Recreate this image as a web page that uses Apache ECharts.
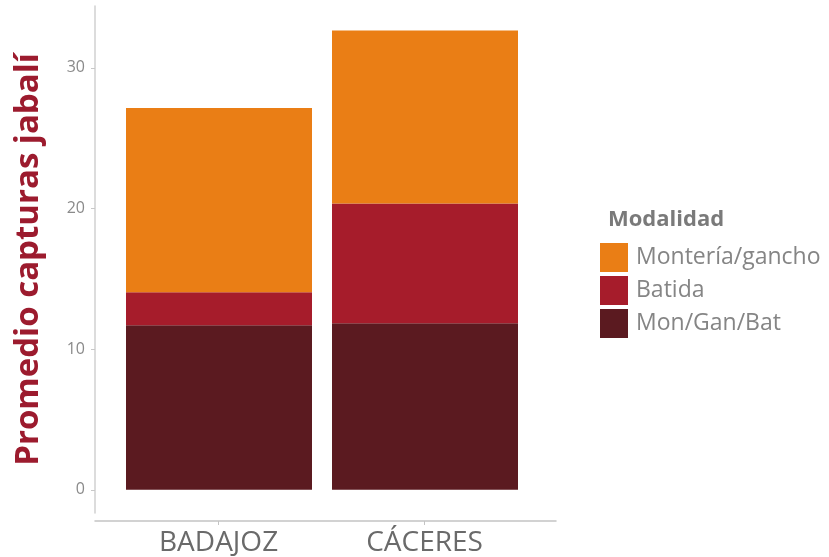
<!DOCTYPE html>
<html>
<head>
<meta charset="utf-8">
<script src="https://cdn.jsdelivr.net/npm/echarts@6/dist/echarts.min.js"></script>
<style>
  html, body { margin: 0; padding: 0; background: #fff; }
  #chart { width: 829px; height: 557px; }
</style>
</head>
<body>
<div id="chart"></div>
<script>
const provincias = ['BADAJOZ', 'CÁCERES'];
const monGanBat = [11.7, 11.85];
const batida = [2.35, 8.5];
const monteria = [13.1, 12.3];
const yTicks = [0, 10, 20, 30];

const colores = {
  'Montería/gancho': '#EA7E15',
  'Batida': '#A61C2B',
  'Mon/Gan/Bat': '#5B1A20'
};

const font = "'Open Sans', 'Noto Sans', sans-serif";
const yMin = -1.65, yMax = 34.4;

const chart = echarts.init(document.getElementById('chart'));
chart.setOption({
  animation: false,
  textStyle: { fontFamily: font },
  title: {
    text: 'Modalidad',
    left: 603,
    top: 204,
    textStyle: { fontSize: 22, fontWeight: 'bold', color: '#7a7a7a', fontFamily: font }
  },
  legend: {
    orient: 'vertical',
    left: 595,
    top: 238,
    itemWidth: 28,
    itemHeight: 29,
    itemGap: 4,
    icon: 'rect',
    data: ['Montería/gancho', 'Batida', 'Mon/Gan/Bat'],
    textStyle: { fontSize: 23, color: '#858585', fontFamily: font, padding: [0, 0, 0, 3] }
  },
  // grid 0 carries the visible axes (wider, like ggplot's expanded panel),
  // grid 1 holds the bars on a category axis
  grid: [
    { left: 95, width: 461, top: 6, bottom: 44, outerBoundsMode: 'none' },
    { left: 116, width: 412, top: 6, bottom: 44, outerBoundsMode: 'none' }
  ],
  xAxis: [
    {
      type: 'value',
      gridIndex: 0,
      min: 0.4,
      max: 2.638,
      offset: 8,
      splitLine: { show: false },
      axisLine: { show: true, onZero: false, lineStyle: { color: '#c4c4c4', width: 1.5 } },
      axisTick: { show: true, customValues: [1, 2], length: 4, lineStyle: { color: '#c4c4c4' } },
      axisLabel: {
        customValues: [1, 2],
        formatter: v => provincias[Math.round(v) - 1],
        fontSize: 28,
        color: '#6a6a6a',
        margin: 8
      }
    },
    {
      type: 'category',
      gridIndex: 1,
      data: provincias,
      show: false
    }
  ],
  yAxis: [
    {
      type: 'value',
      gridIndex: 0,
      min: yMin,
      max: yMax,
      name: 'Promedio capturas jabalí',
      nameLocation: 'middle',
      nameGap: 50,
      nameTextStyle: { fontSize: 33, fontWeight: 'bold', color: '#9C1B2E', fontFamily: font },
      splitLine: { show: false },
      axisLine: { show: true, onZero: false, lineStyle: { color: '#d0d0d0', width: 1.5 } },
      axisTick: { show: true, customValues: yTicks, length: 4, lineStyle: { color: '#c8c8c8' } },
      axisLabel: { customValues: yTicks, fontSize: 16, color: '#8a8a8a', margin: 10 }
    },
    {
      type: 'value',
      gridIndex: 1,
      min: yMin,
      max: yMax,
      show: false
    }
  ],
  series: [
    { name: 'Mon/Gan/Bat', data: monGanBat },
    { name: 'Batida', data: batida },
    { name: 'Montería/gancho', data: monteria }
  ].map(s => ({
    type: 'bar',
    stack: 'total',
    xAxisIndex: 1,
    yAxisIndex: 1,
    barWidth: 186,
    name: s.name,
    data: s.data,
    itemStyle: { color: colores[s.name] }
  }))
});
</script>
</body>
</html>
